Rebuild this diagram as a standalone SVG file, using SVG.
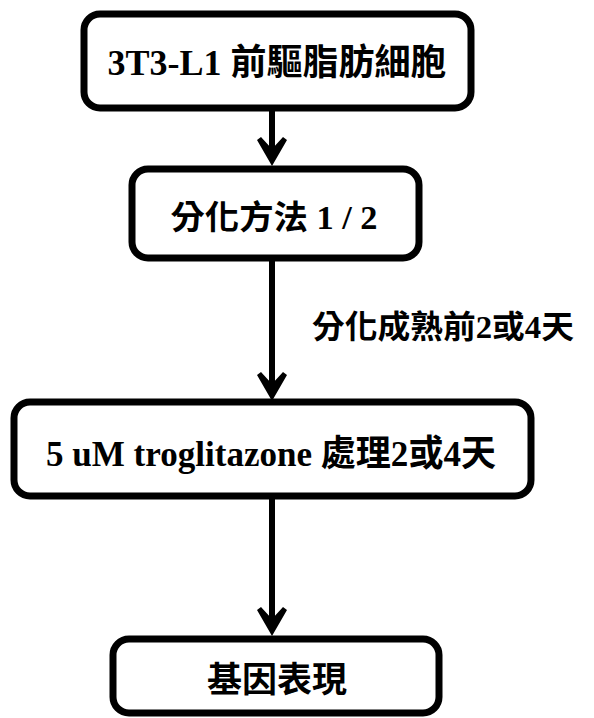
<svg xmlns="http://www.w3.org/2000/svg" width="594" height="718" viewBox="0 0 594 718">
<defs>
<style>
.box{fill:#fff;stroke:#000;stroke-width:7}
.t{font-family:"Liberation Serif","Noto Sans CJK TC",serif;font-weight:bold;fill:#000;text-anchor:middle}
.c{stroke:#000;stroke-width:6;fill:none}
.ah{fill:#000}
</style>
<path id="head" class="ah" d="M0,0 L-15,-26 L-11,-29 L0,-17 L11,-29 L15,-26 Z"/>
</defs>
<rect width="594" height="718" fill="#fff"/>
<g id="connectors">
<line class="c" x1="272" y1="110" x2="272" y2="150"/>
<use href="#head" x="272" y="166"/>
<line class="c" x1="272" y1="260" x2="272" y2="385"/>
<use href="#head" x="272" y="401"/>
<line class="c" x1="272" y1="498" x2="272" y2="620"/>
<use href="#head" x="272" y="636"/>
<text class="t" x="443" y="338" font-size="32" textLength="262" lengthAdjust="spacingAndGlyphs">分化成熟前2或4天</text>
</g>
<g id="n1">
<rect class="box" x="84" y="14" width="387" height="94" rx="16"/>
<text class="t" x="277" y="75" font-size="36" textLength="339" lengthAdjust="spacingAndGlyphs">3T3-L1 前驅脂肪細胞</text>
</g>
<g id="n2">
<rect class="box" x="132" y="169" width="287" height="89" rx="16"/>
<text class="t" x="274" y="229" font-size="33" textLength="207" lengthAdjust="spacingAndGlyphs">分化方法 1 / 2</text>
</g>
<g id="n3">
<rect class="box" x="14" y="402" width="517" height="94" rx="16"/>
<text class="t" x="271" y="466" font-size="36" textLength="450" lengthAdjust="spacingAndGlyphs">5 uM troglitazone 處理2或4天</text>
</g>
<g id="n4">
<rect class="box" x="113" y="639" width="326" height="74" rx="16"/>
<text class="t" x="277" y="692" font-size="35" textLength="140" lengthAdjust="spacingAndGlyphs">基因表現</text>
</g>
</svg>
